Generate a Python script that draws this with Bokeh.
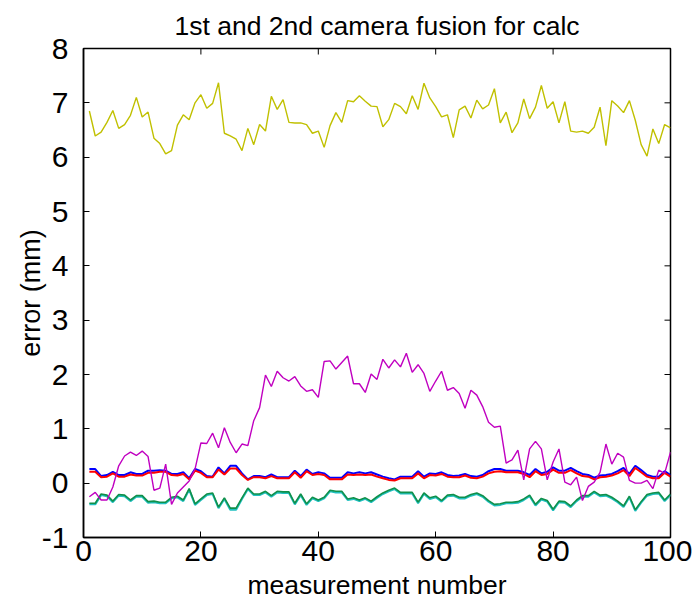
import math
from bokeh.plotting import figure
from bokeh.models import FixedTicker, Range1d, ColumnDataSource
from bokeh.embed import file_html
from bokeh.resources import INLINE

n = list(range(1, 101))

yellow = [6.85, 6.39, 6.46, 6.64, 6.86, 6.53, 6.60, 6.77, 7.10, 6.74,
          6.83, 6.35, 6.25, 6.06, 6.12, 6.59, 6.78, 6.69, 7.00, 7.15,
          6.90, 6.99, 7.37, 6.44, 6.39, 6.33, 6.12, 6.53, 6.23, 6.60,
          6.48, 7.12, 6.88, 7.06, 6.64, 6.63, 6.63, 6.60, 6.44, 6.48,
          6.18, 6.58, 6.82, 6.64, 7.04, 7.02, 7.13, 7.03, 6.94, 6.93,
          6.56, 6.69, 6.99, 6.93, 6.80, 7.13, 6.88, 7.36, 7.09, 6.93,
          6.74, 6.78, 6.36, 6.87, 6.94, 6.72, 7.05, 6.89, 6.96, 7.26,
          6.63, 6.83, 6.45, 6.63, 7.07, 6.71, 6.92, 7.32, 6.90, 7.02,
          6.63, 7.02, 6.48, 6.46, 6.48, 6.44, 6.55, 6.92, 6.21, 7.04,
          6.94, 6.82, 7.04, 6.68, 6.23, 6.02, 6.52, 6.25, 6.60, 6.54]

magenta = [-0.25, -0.17, -0.31, -0.31, -0.07, 0.32, 0.50, 0.57, 0.51, 0.59,
           0.49, -0.13, -0.09, 0.35, -0.39, -0.18, -0.07, 0.04, 0.26, 0.74,
           0.73, 0.92, 0.65, 1.02, 0.75, 0.56, 0.72, 0.69, 1.15, 1.39,
           1.99, 1.78, 2.06, 1.94, 1.88, 1.96, 1.79, 1.69, 1.72, 1.58,
           2.24, 2.25, 2.10, 2.22, 2.34, 1.83, 1.83, 1.67, 2.01, 1.91,
           2.28, 2.12, 2.27, 2.14, 2.39, 2.04, 2.18, 2.02, 1.69, 1.88,
           2.06, 1.71, 1.76, 1.65, 1.38, 1.71, 1.62, 1.41, 1.12, 1.03,
           1.05, 0.37, 0.43, 0.61, 0.06, 0.63, 0.77, 0.63, 0.06, 0.39,
           0.63, 0.02, -0.03, 0.11, -0.32, -0.06, 0.02, 0.20, 0.72, 0.35,
           0.55, 0.48, 0.05, 0.00, 0.00, 0.05, -0.10, 0.24, 0.18, 0.57]

blue = [0.26, 0.26, 0.13, 0.15, 0.21, 0.15, 0.15, 0.20, 0.17, 0.17,
        0.23, 0.23, 0.24, 0.23, 0.17, 0.17, 0.20, 0.09, 0.26, 0.22,
        0.13, 0.12, 0.29, 0.18, 0.32, 0.32, 0.18, 0.07, 0.13, 0.13,
        0.11, 0.16, 0.11, 0.11, 0.11, 0.23, 0.13, 0.25, 0.17, 0.20,
        0.18, 0.10, 0.10, 0.10, 0.20, 0.18, 0.20, 0.18, 0.20, 0.16,
        0.12, 0.09, 0.07, 0.12, 0.12, 0.12, 0.22, 0.12, 0.18, 0.17,
        0.20, 0.15, 0.13, 0.14, 0.17, 0.13, 0.12, 0.15, 0.22, 0.26,
        0.26, 0.23, 0.23, 0.23, 0.20, 0.15, 0.26, 0.18, 0.21, 0.29,
        0.23, 0.23, 0.28, 0.22, 0.17, 0.15, 0.10, 0.14, 0.15, 0.17,
        0.22, 0.28, 0.17, 0.32, 0.24, 0.15, 0.12, 0.12, 0.22, 0.15]

red = [0.21, 0.21, 0.11, 0.12, 0.18, 0.12, 0.12, 0.16, 0.14, 0.14,
       0.19, 0.19, 0.21, 0.21, 0.15, 0.14, 0.17, 0.07, 0.23, 0.19,
       0.11, 0.11, 0.25, 0.16, 0.27, 0.27, 0.15, 0.06, 0.11, 0.11,
       0.09, 0.13, 0.09, 0.09, 0.09, 0.20, 0.10, 0.22, 0.15, 0.17,
       0.15, 0.07, 0.07, 0.07, 0.16, 0.15, 0.16, 0.15, 0.16, 0.12,
       0.09, 0.06, 0.05, 0.09, 0.09, 0.09, 0.18, 0.09, 0.15, 0.14,
       0.17, 0.12, 0.11, 0.11, 0.14, 0.10, 0.09, 0.12, 0.18, 0.21,
       0.22, 0.20, 0.20, 0.20, 0.17, 0.11, 0.22, 0.15, 0.17, 0.25,
       0.19, 0.19, 0.24, 0.18, 0.13, 0.12, 0.07, 0.11, 0.12, 0.14,
       0.18, 0.24, 0.13, 0.28, 0.20, 0.12, 0.09, 0.09, 0.19, 0.12]

green = [-0.37, -0.37, -0.20, -0.22, -0.33, -0.21, -0.22, -0.31, -0.23, -0.23,
         -0.34, -0.33, -0.35, -0.35, -0.26, -0.24, -0.31, -0.10, -0.38, -0.29,
         -0.20, -0.18, -0.44, -0.27, -0.46, -0.46, -0.27, -0.09, -0.20, -0.20,
         -0.15, -0.23, -0.15, -0.16, -0.16, -0.37, -0.20, -0.38, -0.26, -0.31,
         -0.26, -0.13, -0.15, -0.15, -0.29, -0.27, -0.31, -0.27, -0.33, -0.25,
         -0.18, -0.13, -0.09, -0.17, -0.17, -0.17, -0.35, -0.18, -0.27, -0.24,
         -0.32, -0.22, -0.21, -0.26, -0.26, -0.21, -0.18, -0.23, -0.32, -0.39,
         -0.38, -0.35, -0.35, -0.34, -0.29, -0.22, -0.39, -0.28, -0.32, -0.48,
         -0.33, -0.34, -0.42, -0.31, -0.23, -0.23, -0.15, -0.22, -0.21, -0.26,
         -0.33, -0.42, -0.24, -0.49, -0.34, -0.21, -0.18, -0.17, -0.31, -0.20]

cyan = [-0.39, -0.39, -0.22, -0.24, -0.35, -0.23, -0.24, -0.33, -0.25, -0.25,
        -0.36, -0.35, -0.37, -0.37, -0.28, -0.26, -0.33, -0.12, -0.40, -0.31,
        -0.22, -0.20, -0.46, -0.29, -0.49, -0.49, -0.29, -0.11, -0.22, -0.22,
        -0.17, -0.25, -0.17, -0.18, -0.18, -0.39, -0.22, -0.40, -0.28, -0.33,
        -0.28, -0.15, -0.17, -0.17, -0.31, -0.29, -0.33, -0.29, -0.35, -0.27,
        -0.20, -0.15, -0.11, -0.19, -0.19, -0.19, -0.37, -0.20, -0.29, -0.26,
        -0.34, -0.24, -0.23, -0.28, -0.28, -0.23, -0.20, -0.25, -0.34, -0.41,
        -0.40, -0.37, -0.37, -0.36, -0.31, -0.24, -0.41, -0.30, -0.34, -0.50,
        -0.35, -0.36, -0.44, -0.33, -0.25, -0.25, -0.17, -0.24, -0.23, -0.28,
        -0.35, -0.44, -0.26, -0.51, -0.36, -0.23, -0.20, -0.19, -0.33, -0.22]

x_ticks = [0, 20, 40, 60, 80, 100]
y_ticks = [-1, 0, 1, 2, 3, 4, 5, 6, 7, 8]

FONT = "Liberation Sans"

p = figure(frame_width=587, frame_height=489,
           min_border_left=83, min_border_right=22, min_border_top=48, min_border_bottom=62,
           x_range=Range1d(min(x_ticks), max(x_ticks)), y_range=Range1d(min(y_ticks), max(y_ticks)),
           output_backend="svg", toolbar_location=None,
           title="1st and 2nd camera fusion for calc")

p.title.align = "center"
p.title.text_font = FONT
p.title.text_font_style = "normal"
p.title.text_font_size = "26.5px"
p.title.text_color = "black"
p.title.standoff = 15

p.xgrid.visible = False
p.ygrid.visible = False
p.outline_line_color = "black"
p.outline_line_width = 1.5
p.background_fill_color = "white"
p.border_fill_color = "white"

src = ColumnDataSource(dict(n=n, yellow=yellow, magenta=magenta, blue=blue,
                            red=red, green=green, cyan=cyan))

p.line("n", "blue", source=src, line_color="#0000ff", line_width=2)
p.line("n", "red", source=src, line_color="#ff0000", line_width=2)
p.line("n", "cyan", source=src, line_color="#20c0c0", line_width=2)
p.line("n", "green", source=src, line_color="#10904a", line_width=1.6)
p.line("n", "magenta", source=src, line_color="#c000c0", line_width=1.4)
p.line("n", "yellow", source=src, line_color="#c0c000", line_width=1.4)

# mirrored inward ticks on top and right edges (clipped to frame, so only inner half shows)
p.scatter(x=x_ticks, y=[max(y_ticks)] * len(x_ticks), marker="dash", angle=math.pi / 2,
          size=12, line_color="black", line_width=1)
p.scatter(x=[max(x_ticks)] * len(y_ticks), y=y_ticks, marker="dash",
          size=12, line_color="black", line_width=1)

for ax in (p.xaxis[0], p.yaxis[0]):
    ax.major_tick_in = 6
    ax.major_tick_out = 0
    ax.minor_tick_line_color = None
    ax.axis_line_color = "black"
    ax.axis_line_width = 1.5
    ax.major_tick_line_color = "black"
    ax.major_tick_line_width = 1
    ax.major_label_text_font = FONT
    ax.major_label_text_font_size = "30px"
    ax.major_label_text_color = "black"
    ax.axis_label_text_font = FONT
    ax.axis_label_text_font_style = "normal"
    ax.axis_label_text_color = "black"

p.xaxis.ticker = FixedTicker(ticks=x_ticks)
p.yaxis.ticker = FixedTicker(ticks=y_ticks)
p.yaxis.major_label_overrides = {t: str(t) for t in y_ticks}
p.xaxis.axis_label = "measurement number"
p.yaxis.axis_label = "error (mm)"
p.xaxis.axis_label_text_font_size = "26.5px"
p.yaxis.axis_label_text_font_size = "27px"
p.xaxis.major_label_standoff = 3
p.yaxis.major_label_standoff = 15
p.xaxis.axis_label_standoff = 6
p.yaxis.axis_label_standoff = -7

open("out.html", "w").write(file_html(p, INLINE))
